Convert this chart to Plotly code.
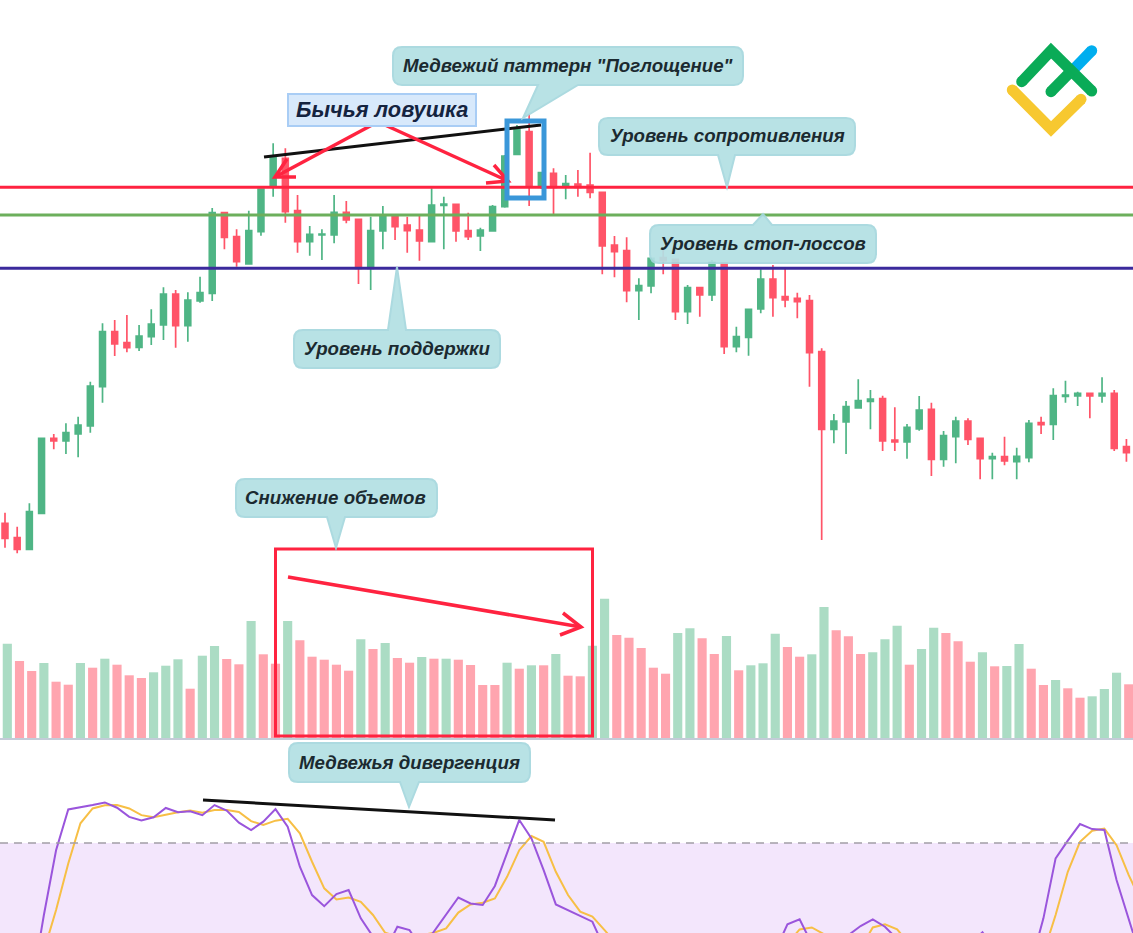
import plotly.graph_objects as go

W = 1133
H = 933

# price candles, oldest first (price axis: 740 at the top of the page)
opens = [216.7, 202.3, 190.7, 226.7, 301.7, 299, 306, 314, 353.3, 408.3, 397.3, 392.7, 403.3, 415, 446, 414.3, 439, 446.7, 527.3, 503.3, 476, 508.3, 554,
         581.7, 529.3, 498.3, 505, 505, 527.7, 520.7, 471.7, 509, 523.3, 515, 510, 498.3, 534.7, 535.7, 509.3, 504, 509, 533.3, 585.7, 608.3, 553, 566.7,
         554.3, 556, 555, 547.7, 495, 489.3, 449.3, 454, 482.3, 480.7, 428.3, 452.3, 445, 476.7, 393.3, 402.7, 431, 461, 443.3, 441.7, 439.3, 388.3, 310.7,
         318, 332, 338.7, 341.3, 300, 298, 311, 330.7, 280.7, 303.3, 319, 301.7, 281.3, 283.3, 278.3, 282.3, 317.3, 315.7, 343.7, 344, 346.7, 344, 346.7, 293.3]
highs = [227.3, 213.3, 236.7, 302, 306, 316.7, 323.3, 358.3, 416.7, 420, 425, 415, 430.7, 452.7, 450, 447.7, 463.3, 532, 528.3, 510.7, 529.3, 551.7, 596.7,
         591.7, 545, 514, 510.7, 545, 539, 521, 523.3, 534, 525, 523.3, 524, 551.7, 543.3, 536, 527.3, 512.3, 535, 585, 615, 626, 567.3, 571.7,
         565, 570, 587.3, 548.3, 504, 502.7, 461.7, 482, 490, 481, 455, 453, 480, 477, 413.3, 431, 470.7, 475, 471, 447.3, 445, 391.7, 326,
         339, 360.7, 350, 344.3, 332.7, 316, 344, 337.3, 309, 323.3, 321.7, 302, 287.3, 303.3, 292.3, 320, 323.3, 351.7, 359.3, 348.3, 347, 362.7, 350, 301]
lows = [192.3, 186.7, 190, 226, 290.7, 286, 282.7, 307.3, 337.3, 384, 387.7, 389, 395, 400, 392.3, 398.3, 437.3, 439, 490.7, 473.3, 476, 504.3, 543.3,
        517.3, 487.3, 484.3, 480, 496.7, 516.7, 456, 450, 490.7, 500, 487.3, 479.3, 498.3, 490.7, 498.3, 500, 489, 508.3, 532.3, 585.7, 534, 551, 526,
        540.7, 543.3, 541.7, 465.7, 462.7, 437.7, 420, 446.7, 465.7, 420, 416, 423.3, 439, 386, 387.7, 384.3, 426.7, 423.3, 432.7, 421.7, 353.3, 200, 296.7,
        286, 332, 310.7, 289, 289, 281.3, 309.3, 264, 273.3, 276.7, 295, 260.7, 260.7, 274.7, 260.7, 277.7, 306, 300, 337.3, 334, 321.7, 337.3, 289, 278.3]
closes = [201.7, 190.7, 228.3, 301.7, 299, 307.3, 315, 354, 408.3, 396, 392.3, 404, 416, 446, 414.3, 440, 447.3, 527.3, 502.7, 478.3, 509.3, 551, 582.7,
          528.3, 498.3, 505.7, 506, 527.7, 520, 471.7, 509.3, 525, 513.3, 509.3, 499, 535, 536, 509, 503.3, 510, 533.3, 584, 610.7, 553.3, 567.3, 552.7,
          556.3, 552.7, 547.7, 494, 488.3, 449.3, 454.3, 481.7, 479.3, 428.3, 452.3, 445, 477.7, 393.3, 403.3, 430.7, 461, 442.3, 440, 438.3, 387.3, 310.7, 319,
          333.3, 339.3, 341, 299, 298, 312.7, 330, 280.7, 304.3, 319, 300.7, 281.3, 283.3, 279, 283.7, 316.7, 315.3, 344.3, 345, 346.7, 344, 346.7, 291.7, 287.3]

# volume bars
volumes = [94.3, 77, 67, 75, 56.3, 53.3, 75, 70.3, 79.3, 73.3, 62.7, 60, 65.7, 72.3, 78.7, 49.3, 82.3, 92, 79, 73.7, 117, 83.7, 74.3, 117, 97.7, 81.3, 78.3, 73.3,
           67.3, 98.7, 89, 95, 80, 75.3, 81, 79.3, 79.3, 78.3, 73, 53, 53, 75.3, 69.3, 72.7, 72.7, 84, 62.3, 61.7, 92.3, 139.3, 103, 100.3, 90, 70.3, 64.3, 105,
           109.7, 99.7, 84, 102, 67.7, 72.7, 74.7, 104.3, 91, 81.3, 83.7, 131, 107.7, 101.7, 84, 85.7, 98.7, 112.3, 73.3, 89, 110.3, 105, 96.7, 76.3, 85.7, 71.7,
           72, 94, 69.3, 53, 58, 49.7, 40.3, 41.7, 49, 65.3, 53.7]
volume_sides = "GRRGRRGRGRRRGGGRGGRRGRRGRRRRRGRGRRGRGRRRRGRGRGRRGGRRRRRGGRRGRGGGRRGGRRRGGGRGGRRRGRGGRRGRRGGGR"

# stochastic oscillator (the lower part runs off the page)
stoch_k = [30, 25, 20, 50, 77, 94, 94.8, 95.8, 96.9, 94.7, 90.9, 89.4, 90.7, 94.6, 92.8, 93.2, 91.6, 95.8, 93.5, 88.5, 85.4, 88.9, 94.1, 86.8, 70.1, 58.3, 53.7,
           58.7, 60.4, 48.6, 41, 35, 45.1, 43.7, 36, 43, 50, 57.3, 54.8, 54.2, 62.1, 75.7, 89.6, 81.9, 68.7, 54.4, 52, 49.3, 47.2, 36, 30, 28, 25, 22, 20, 20, 22,
           24, 25, 26, 26, 27, 28, 35, 46.1, 48.2, 38, 30, 34, 41.6, 45.4, 48.2, 45.1, 40, 36, 34, 32, 33, 35, 38, 42.8, 36, 30, 28, 30, 48.6, 73.6, 81, 87.9, 85.8,
           85.4, 64.6, 48, 32]
stoch_d = [35, 30, 26, 35, 52.1, 71.5, 88.2, 94.4, 95.7, 95.8, 94.4, 91.6, 90.7, 91.9, 92.8, 93.5, 92.6, 93.7, 93.7, 92.9, 89.1, 87.5, 89.3, 90.1, 84, 72.2, 61.1,
           56.5, 57.3, 55.5, 50, 42.6, 41, 40, 41.6, 42.6, 44.4, 51, 54.4, 55.1, 56.9, 65.9, 77, 82.9, 80.5, 68, 58.3, 51.4, 49.3, 43.7, 38, 32, 28, 26, 24, 22, 22,
           23, 24, 25, 26, 27, 28, 32, 38, 44, 44.8, 42, 36, 34, 36, 44.8, 46.1, 44, 38, 35, 33, 33, 34, 36, 38, 38, 35, 32, 30, 34, 50, 68, 80.5, 85.1, 86, 79.1, 66.6, 56]

level_resistance = 552.7
level_stop = 525
level_support = 471.7
stoch_upper = 80

GREEN = "#4fb585"
RED = "#ff5468"
VOL_GREEN = "#abdcc4"
VOL_RED = "#ffa5af"
LINE_RED = "#ff2340"
CALLOUT = "#b3e0e4"
CALLOUT_EDGE = "#a6d8de"
FONT = "Liberation Sans"


def px(x):
    return x / W


def py(y):
    return 1 - y / H


def line_shape(pts, color, width):
    path = "M" + " L".join(f"{px(x):.5f},{py(y):.5f}" for x, y in pts)
    return dict(type="path", xref="paper", yref="paper", path=path, layer="above",
                line=dict(color=color, width=width), fillcolor="rgba(0,0,0,0)")


def dot(x, y, r, color):
    return dict(type="circle", xref="paper", yref="paper", x0=px(x - r), x1=px(x + r), y0=py(y - r), y1=py(y + r),
                layer="above", line=dict(width=0), fillcolor=color)


def callout(x0, y0, x1, y1, tail, r=9):
    # rounded box with a pointer, tail = (side, base_a, base_b, tip_x, tip_y)
    side, a, b, tx, ty = tail
    d = f"M{px(x0 + r):.5f},{py(y0):.5f}"
    if side == "top":
        d += f" L{px(a):.5f},{py(y0):.5f} L{px(tx):.5f},{py(ty):.5f} L{px(b):.5f},{py(y0):.5f}"
    d += f" L{px(x1 - r):.5f},{py(y0):.5f} Q{px(x1):.5f},{py(y0):.5f} {px(x1):.5f},{py(y0 + r):.5f}"
    d += f" L{px(x1):.5f},{py(y1 - r):.5f} Q{px(x1):.5f},{py(y1):.5f} {px(x1 - r):.5f},{py(y1):.5f}"
    if side == "bottom":
        d += f" L{px(b):.5f},{py(y1):.5f} L{px(tx):.5f},{py(ty):.5f} L{px(a):.5f},{py(y1):.5f}"
    d += f" L{px(x0 + r):.5f},{py(y1):.5f} Q{px(x0):.5f},{py(y1):.5f} {px(x0):.5f},{py(y1 - r):.5f}"
    d += f" L{px(x0):.5f},{py(y0 + r):.5f} Q{px(x0):.5f},{py(y0):.5f} {px(x0 + r):.5f},{py(y0):.5f} Z"
    return dict(type="path", xref="paper", yref="paper", path=d, layer="above", opacity=0.93,
                line=dict(color=CALLOUT_EDGE, width=2), fillcolor=CALLOUT)


def label(x, y, text, size=18.7, color="#1b2a30"):
    return dict(xref="paper", yref="paper", x=px(x), y=py(y), text=text, showarrow=False, xanchor="center", yanchor="middle",
                font=dict(family=FONT, size=size, color=color, weight="bold", style="italic"))


index = list(range(len(opens)))
stoch_index = list(range(len(stoch_k)))

fig = go.Figure()
fig.add_trace(go.Bar(x=index, y=volumes, xaxis="x2", yaxis="y2",
                     marker=dict(color=[VOL_GREEN if s == "G" else VOL_RED for s in volume_sides], line=dict(width=0))))
fig.add_trace(go.Scatter(x=stoch_index, y=stoch_d, xaxis="x2", yaxis="y3", mode="lines", line=dict(color="#f7bf45", width=2)))
fig.add_trace(go.Scatter(x=stoch_index, y=stoch_k, xaxis="x2", yaxis="y3", mode="lines", line=dict(color="#9a55dc", width=2)))
fig.add_trace(go.Candlestick(x=index, open=opens, high=highs, low=lows, close=closes, xaxis="x", yaxis="y",
                             increasing=dict(fillcolor=GREEN, line=dict(color=GREEN, width=1.7)),
                             decreasing=dict(fillcolor=RED, line=dict(color=RED, width=1.7))))

shapes = [
    dict(type="rect", xref="paper", yref="y3", x0=0, x1=1, y0=0, y1=stoch_upper, layer="below", line=dict(width=0), fillcolor="#f3e6fc"),
    dict(type="line", xref="paper", yref="y3", x0=0, x1=1, y0=stoch_upper, y1=stoch_upper, layer="above",
         line=dict(color="#a39fa6", width=1.5, dash="8px,6px")),
    dict(type="line", xref="paper", yref="paper", x0=0, x1=1, y0=py(739), y1=py(739), layer="above", line=dict(color="#c4ccd8", width=2)),
    dict(type="line", xref="paper", yref="y", x0=0, x1=1, y0=level_stop, y1=level_stop, layer="above", line=dict(color="#6caf5c", width=3)),
    dict(type="line", xref="paper", yref="y", x0=0, x1=1, y0=level_support, y1=level_support, layer="above", line=dict(color="#3b2a9c", width=3)),
    dict(type="line", xref="paper", yref="y", x0=0, x1=1, y0=level_resistance, y1=level_resistance, layer="above", line=dict(color=LINE_RED, width=3)),
    # trend lines
    line_shape([(264, 157), (541, 125)], "#111111", 3),
    line_shape([(203, 800), (555, 820)], "#111111", 3),
    # bull trap arrows
    line_shape([(372, 125), (275, 177)], LINE_RED, 3.5),
    line_shape([(287, 159), (275, 177), (296, 177)], LINE_RED, 3.5),
    line_shape([(385, 125), (508, 181)], LINE_RED, 3.5),
    line_shape([(494, 165), (508, 181), (486, 183)], LINE_RED, 3.5),
    # pattern box
    dict(type="rect", xref="paper", yref="paper", x0=px(507), x1=px(544), y0=py(121), y1=py(198), layer="above",
         line=dict(color="#3a97d9", width=5)),
    # volume box and arrow
    dict(type="rect", xref="paper", yref="paper", x0=px(275.5), x1=px(592.5), y0=py(549), y1=py(736), layer="above",
         line=dict(color=LINE_RED, width=3)),
    line_shape([(288, 577), (581, 627)], LINE_RED, 3.5),
    line_shape([(563, 613), (581, 627), (560, 635)], LINE_RED, 3.5),
    # callouts
    callout(393, 47, 743, 85, ("bottom", 538, 578, 523, 118)),
    callout(599, 118, 855, 155, ("bottom", 718, 735, 727, 187)),
    callout(650, 225, 876, 263, ("top", 753, 772, 763, 214)),
    callout(294, 330, 500, 368, ("top", 388, 406, 397, 267)),
    callout(236, 479, 437, 517, ("bottom", 327, 345, 336, 548)),
    callout(289, 743, 530, 782, ("bottom", 400, 419, 409, 807)),
    dict(type="rect", xref="paper", yref="paper", x0=px(288), x1=px(476), y0=py(94), y1=py(126), layer="above",
         line=dict(color="#a9cdf5", width=2), fillcolor="#d8e9fb"),
    # logo
    line_shape([(1073, 70), (1091.7, 50.7)], "#00aeef", 11),
    dot(1091.7, 50.7, 5.5, "#00aeef"),
    line_shape([(1012.3, 90), (1051, 129), (1081, 99.3)], "#f7c830", 11),
    dot(1012.3, 90, 5.5, "#f7c830"),
    dot(1081, 99.3, 5.5, "#f7c830"),
    line_shape([(1021.7, 81.7), (1051, 50.7), (1091.7, 91)], "#0aab57", 11),
    line_shape([(1051, 91.7), (1070.7, 71.7)], "#0aab57", 11),
    dot(1021.7, 81.7, 5.5, "#0aab57"),
    dot(1091.7, 91, 5.5, "#0aab57"),
    dot(1051, 91.7, 5.5, "#0aab57"),
]

annotations = [
    label(568, 65, 'Медвежий паттерн "Поглощение"'),
    label(727, 136, "Уровень сопротивления"),
    label(763, 243, "Уровень стоп-лоссов"),
    label(397, 348, "Уровень поддержки"),
    label(336, 497, "Снижение объемов"),
    label(409, 762, "Медвежья дивергенция"),
    label(382, 110, "Бычья ловушка", size=21.8, color="#14233f"),
]

hidden = dict(visible=False, fixedrange=True)
fig.update_layout(
    width=W,
    height=H,
    margin=dict(l=0, r=0, t=0, b=0),
    paper_bgcolor="white",
    plot_bgcolor="rgba(0,0,0,0)",
    showlegend=False,
    bargap=0.25,
    boxgap=0.32,
    shapes=shapes,
    annotations=annotations,
    xaxis=dict(hidden, range=[-0.41, 92.54], rangeslider=dict(visible=False)),
    xaxis2=dict(hidden, range=[-0.6, 92.35], overlaying="x"),
    yaxis=dict(hidden, range=[-193, 740]),
    yaxis2=dict(hidden, range=[-195, 738], overlaying="y"),
    yaxis3=dict(hidden, range=[42.5, 431.25], overlaying="y"),
)

fig.write_html("out.html", config=dict(displayModeBar=False),
               post_script="document.body.style.margin='0';document.body.style.overflow='hidden';")
